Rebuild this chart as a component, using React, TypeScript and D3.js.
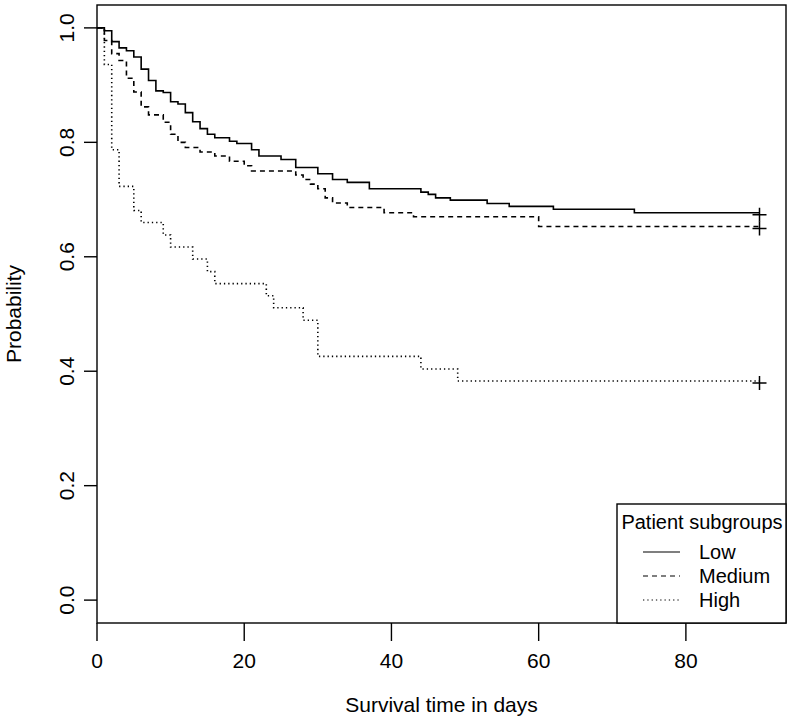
import React, { useEffect, useRef } from 'react';
import * as d3 from 'd3';

// Kaplan-Meier estimates (time in days, survival probability)
const lowTime = [0, 1, 2, 3, 4, 5, 6, 7, 8, 9, 10, 11, 12, 13, 14, 15, 16, 18, 19, 21, 22, 25, 27, 30, 32, 34, 37, 44, 45, 46, 48, 53, 56, 62, 73, 90];
const lowSurv = [1.0, 0.995, 0.976, 0.965, 0.96, 0.949, 0.928, 0.908, 0.89, 0.887, 0.871, 0.867, 0.852, 0.836, 0.824, 0.814, 0.808, 0.802, 0.798, 0.787, 0.776, 0.77, 0.756, 0.745, 0.735, 0.73, 0.719, 0.713, 0.709, 0.703, 0.699, 0.693, 0.688, 0.683, 0.677, 0.677];

const medTime = [0, 1, 2, 3, 4, 5, 6, 7, 9, 10, 11, 12, 14, 16, 18, 20, 21, 27, 28, 29, 30, 31, 32, 34, 39, 43, 60, 90];
const medSurv = [1.0, 0.978, 0.955, 0.943, 0.912, 0.888, 0.862, 0.848, 0.835, 0.814, 0.8, 0.791, 0.783, 0.776, 0.767, 0.759, 0.75, 0.743, 0.735, 0.727, 0.719, 0.703, 0.694, 0.686, 0.677, 0.67, 0.653, 0.653];

const highTime = [0, 1, 2, 3, 5, 6, 9, 10, 13, 15, 16, 23, 24, 28, 30, 44, 49, 90];
const highSurv = [1.0, 0.936, 0.787, 0.723, 0.681, 0.66, 0.638, 0.617, 0.596, 0.574, 0.553, 0.532, 0.511, 0.489, 0.426, 0.404, 0.383, 0.383];

const groupNames = ['Low', 'Medium', 'High'];
const xTicks = [0, 20, 40, 60, 80];
const yTicks = [0, 0.2, 0.4, 0.6, 0.8, 1.0];

const W = 793;
const H = 725;
const FONT = '"Liberation Sans", Arial, Helvetica, sans-serif';

const SurvivalPlot = () => {
  const svgRef = useRef<SVGSVGElement>(null);

  useEffect(() => {
    const svg = d3.select(svgRef.current);
    svg.selectAll('*').remove();

    const left = 97, right = 786, top = 5, bottom = 623;
    const x = d3.scaleLinear().domain([0, 93.6]).range([left, right]);
    const y = d3.scaleLinear().domain([-0.04, 1.04]).range([bottom, top]);

    const groups = [
      { name: groupNames[0], t: lowTime, s: lowSurv, dash: null },
      { name: groupNames[1], t: medTime, s: medSurv, dash: '5 4' },
      { name: groupNames[2], t: highTime, s: highSurv, dash: '1.3 3' },
    ];

    const line = d3.line<[number, number]>()
      .x(d => x(d[0]))
      .y(d => y(d[1]))
      .curve(d3.curveStepAfter);

    // curves
    groups.forEach(g => {
      const pts = g.t.map((t, i) => [t, g.s[i]] as [number, number]);
      svg.append('path')
        .attr('d', line(pts))
        .attr('fill', 'none')
        .attr('stroke', '#000')
        .attr('stroke-width', 1.6)
        .attr('stroke-dasharray', g.dash);

      // censoring mark at the last time
      const lt = g.t[g.t.length - 1];
      const ls = g.s[g.s.length - 1];
      svg.append('path')
        .attr('d', `M${x(lt) - 7},${y(ls) + 2}h14M${x(lt)},${y(ls) - 5}v14`)
        .attr('stroke', '#000')
        .attr('stroke-width', 1.5);
    });

    // box
    svg.append('rect')
      .attr('x', left).attr('y', top)
      .attr('width', right - left).attr('height', bottom - top)
      .attr('fill', 'none').attr('stroke', '#000').attr('stroke-width', 1.4);

    // x axis
    const xa = svg.append('g');
    xTicks.forEach(t => {
      xa.append('line')
        .attr('x1', x(t)).attr('x2', x(t))
        .attr('y1', bottom).attr('y2', bottom + 18)
        .attr('stroke', '#000').attr('stroke-width', 1.4);
      xa.append('text')
        .attr('x', x(t)).attr('y', 668)
        .attr('text-anchor', 'middle')
        .style('font-family', FONT).style('font-size', '21px')
        .text(String(t));
    });
    svg.append('text')
      .attr('x', (left + right) / 2).attr('y', 712)
      .attr('text-anchor', 'middle')
      .style('font-family', FONT).style('font-size', '21px')
      .text('Survival time in days');

    // y axis
    const ya = svg.append('g');
    yTicks.forEach(t => {
      ya.append('line')
        .attr('x1', left).attr('x2', left - 13)
        .attr('y1', y(t)).attr('y2', y(t))
        .attr('stroke', '#000').attr('stroke-width', 1.4);
      ya.append('text')
        .attr('transform', `translate(74,${y(t)}) rotate(-90)`)
        .attr('text-anchor', 'middle')
        .style('font-family', FONT).style('font-size', '21px')
        .text(t.toFixed(1));
    });
    svg.append('text')
      .attr('transform', `translate(21,${(top + bottom) / 2}) rotate(-90)`)
      .attr('text-anchor', 'middle')
      .style('font-family', FONT).style('font-size', '21px')
      .text('Probability');

    // legend
    const lg = svg.append('g');
    lg.append('rect')
      .attr('x', 617).attr('y', 504)
      .attr('width', right - 617).attr('height', bottom - 504)
      .attr('fill', '#fff').attr('stroke', '#000').attr('stroke-width', 1.4);
    lg.append('text')
      .attr('x', 702).attr('y', 529)
      .attr('text-anchor', 'middle')
      .style('font-family', FONT).style('font-size', '20px')
      .text('Patient subgroups');
    groups.forEach((g, i) => {
      const ly = 552 + i * 24;
      lg.append('line')
        .attr('x1', 643).attr('x2', 680)
        .attr('y1', ly).attr('y2', ly)
        .attr('stroke', '#000').attr('stroke-width', 1.2)
        .attr('stroke-dasharray', g.dash);
      lg.append('text')
        .attr('x', 699).attr('y', ly + 7)
        .style('font-family', FONT).style('font-size', '20px')
        .text(g.name);
    });
  }, []);

  return (
    <svg ref={svgRef} width={W} height={H}
      style={{ position: 'absolute', left: 0, top: 0, background: '#fff' }} />
  );
};

export default function App() {
  return <SurvivalPlot />;
}
